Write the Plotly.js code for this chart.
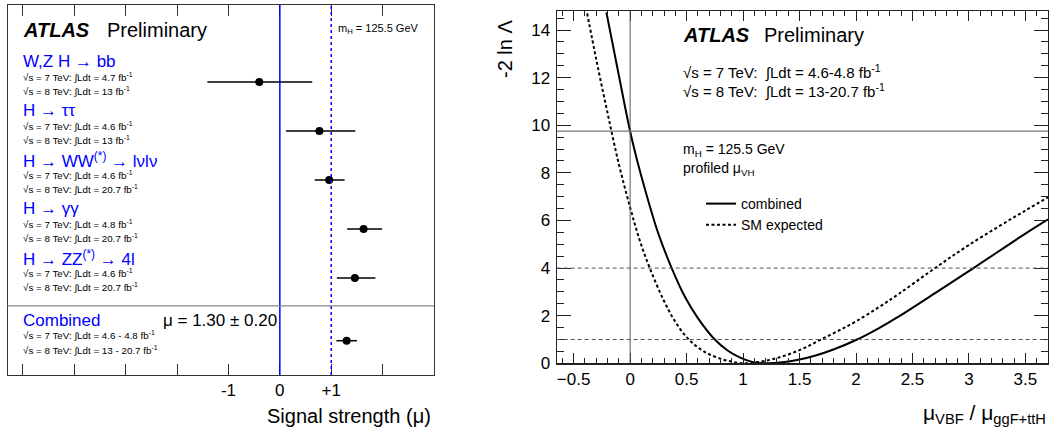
<!DOCTYPE html>
<html>
<head>
<meta charset="utf-8">
<script src="https://cdn.plot.ly/plotly-3.0.1.min.js"></script>
<style>html,body{margin:0;padding:0;background:#fff}#chart{width:1054px;height:433px}</style>
</head>
<body>
<div id="chart"></div>
<script>
// ---------------- data: left panel (signal strength per channel) ----------------
const CHANNELS = ['W,Z H → bb', 'H → ττ', 'H → WW<sup>(*)</sup> → lνlν', 'H → γγ', 'H → ZZ<sup>(*)</sup> → 4l', 'Combined'];
const MU      = [-0.40, 0.77, 0.96, 1.63, 1.46, 1.30];
const ERR_UP  = [1.03, 0.70, 0.30, 0.36, 0.40, 0.20];
const ERR_DN  = [1.01, 0.65, 0.28, 0.32, 0.35, 0.20];
const LUMI_7TEV = ['4.7', '4.6', '4.6', '4.8', '4.6', '4.6 - 4.8'];
const LUMI_8TEV = ['13', '13', '20.7', '20.7', '20.7', '13 - 20.7'];
const MU_TICKS = [-1, 0, 1];
const MU_TICK_LABELS = ['-1', '0', '+1'];
const MU_UNLABELLED_TICKS = [-5, -4, -3, -2, 2];
const COMBINED_TEXT = 'μ = 1.30 ± 0.20';

// ---------------- data: right panel (-2 ln Λ scan) ----------------
const COMB_X = [-0.21, -0.10, 0.00, 0.08, 0.16, 0.25, 0.368, 0.49, 0.60, 0.75, 0.86, 0.97, 1.08, 1.20, 1.35, 1.50, 1.65, 1.80, 2.01, 2.20, 2.38, 2.70, 3.04, 3.50, 3.70];
const COMB_Y = [14.75, 12.10, 9.75, 8.20, 6.84, 5.45, 4.00, 2.75, 1.90, 1.00, 0.55, 0.25, 0.06, 0.00, 0.04, 0.16, 0.34, 0.58, 1.00, 1.47, 1.97, 2.95, 4.00, 5.45, 6.05];
const EXP_X  = [-0.38, -0.30, -0.20, -0.10, 0.00, 0.08, 0.174, 0.294, 0.386, 0.50, 0.60, 0.70, 0.82, 0.91, 1.00, 1.13, 1.26, 1.40, 1.55, 1.69, 1.85, 2.00, 2.20, 2.38, 2.67, 3.00, 3.50, 3.70];
const EXP_Y  = [14.70, 12.77, 10.52, 8.37, 6.55, 5.24, 4.00, 2.68, 1.85, 1.10, 0.67, 0.38, 0.16, 0.06, 0.00, 0.05, 0.17, 0.37, 0.66, 1.00, 1.38, 1.76, 2.35, 2.92, 3.90, 4.97, 6.42, 6.97];
const SIGMA_LEVELS = [1, 4];

// ---------------- layout helpers ----------------
const W = 1054, H = 433;
const px = x => x / W;
const py = y => 1 - y / H;
const FONT = 'Liberation Sans, Arial, Helvetica, sans-serif';
const BLUE = '#0000ff';

// row position of each channel on the left panel (top to bottom)
const rowPos = i => (i < 5 ? i + 1 : 6.28);
const ROWS = CHANNELS.map((_, i) => rowPos(i));

const traces = [];
traces.push({
  type: 'scatter', mode: 'markers', xaxis: 'x', yaxis: 'y', showlegend: false,
  x: MU, y: ROWS,
  marker: {color: 'black', size: 8},
  error_x: {type: 'data', symmetric: false, array: ERR_UP, arrayminus: ERR_DN, width: 0, thickness: 1.5, color: 'black'}
});
traces.push({
  type: 'scatter', mode: 'lines', xaxis: 'x2', yaxis: 'y2', name: 'combined',
  x: COMB_X, y: COMB_Y, line: {color: 'black', width: 2, shape: 'spline', smoothing: 1}
});
traces.push({
  type: 'scatter', mode: 'lines', xaxis: 'x2', yaxis: 'y2', name: 'SM expected',
  x: EXP_X, y: EXP_Y, line: {color: 'black', width: 2, dash: '3px,2.5px', shape: 'spline', smoothing: 1}
});

const ann = [];
function txt(text, x, y, size, opts) {
  ann.push(Object.assign({
    text: text, x: x, y: y, xref: 'paper', yref: 'paper', xanchor: 'left', yanchor: 'middle',
    showarrow: false, font: {family: FONT, size: size, color: 'black'}
  }, opts || {}));
}

// left panel texts
txt('<b><i>ATLAS</i></b>', px(21), py(30), 20);
txt('Preliminary', px(105), py(30), 20);
txt('m<sub>H</sub> = 125.5 GeV', px(336), py(29), 11);
CHANNELS.forEach((c, i) => {
  const r = ROWS[i];
  ann.push({text: c, x: px(21), y: r - 0.41, xref: 'paper', yref: 'y', xanchor: 'left', yanchor: 'middle',
    showarrow: false, font: {family: FONT, size: 17, color: BLUE}});
  ann.push({text: '√s = 7 TeV: ∫Ldt = ' + LUMI_7TEV[i] + ' fb<sup>-1</sup>', x: px(21), y: r - 0.11, xref: 'paper', yref: 'y',
    xanchor: 'left', yanchor: 'middle', showarrow: false, font: {family: FONT, size: 9.8, color: 'black'}});
  ann.push({text: '√s = 8 TeV: ∫Ldt = ' + LUMI_8TEV[i] + ' fb<sup>-1</sup>', x: px(21), y: r + 0.19, xref: 'paper', yref: 'y',
    xanchor: 'left', yanchor: 'middle', showarrow: false, font: {family: FONT, size: 9.8, color: 'black'}});
});
ann.push({text: COMBINED_TEXT, x: px(161), y: ROWS[5] - 0.41, xref: 'paper', yref: 'y', xanchor: 'left', yanchor: 'middle',
  showarrow: false, font: {family: FONT, size: 17, color: 'black'}});
txt('Signal strength (μ)', px(433), py(416), 20, {xanchor: 'right'});

// right panel texts
txt('<b><i>ATLAS</i></b>', px(681), py(35), 20);
txt('Preliminary', px(762), py(35), 20);
txt('√s = 7 TeV:  ∫Ldt = 4.6-4.8 fb<sup>-1</sup>', px(681), py(72), 15);
txt('√s = 8 TeV:  ∫Ldt = 13-20.7 fb<sup>-1</sup>', px(681), py(91), 15);
txt('m<sub>H</sub> = 125.5 GeV', px(681), py(150), 14);
txt('profiled μ<sub>VH</sub>', px(681), py(169), 14);
txt('μ<sub>VBF</sub> / μ<sub>ggF+ttH</sub>', px(1048), py(414), 21, {xanchor: 'right'});
txt('-2 ln Λ', px(505), py(18), 20, {xanchor: 'center', yanchor: 'top', textangle: -90});

// shapes (reference lines)
const shapes = [];
shapes.push({type: 'line', xref: 'x', yref: 'y domain', x0: 0, x1: 0, y0: 0, y1: 1, line: {color: BLUE, width: 1.5}});
shapes.push({type: 'line', xref: 'x', yref: 'y domain', x0: 1, x1: 1, y0: 0, y1: 1, line: {color: BLUE, width: 1.5, dash: 'dot'}});
shapes.push({type: 'line', xref: 'x domain', yref: 'y', x0: 0, x1: 1, y0: 5.57, y1: 5.57, line: {color: '#888', width: 1.2}});
const nllAtZero = COMB_Y[COMB_X.indexOf(0)];
shapes.push({type: 'line', xref: 'x2', yref: 'y2 domain', x0: 0, x1: 0, y0: 0, y1: 1, line: {color: '#555', width: 1}});
shapes.push({type: 'line', xref: 'x2 domain', yref: 'y2', x0: 0, x1: 1, y0: nllAtZero, y1: nllAtZero, line: {color: '#777', width: 1.2}});
SIGMA_LEVELS.forEach(s => shapes.push({type: 'line', xref: 'x2 domain', yref: 'y2', x0: 0, x1: 1, y0: s, y1: s,
  line: {color: '#555', width: 1, dash: '4px,3px'}}));

const layout = {
  width: W, height: H, margin: {l: 0, r: 0, t: 0, b: 0},
  paper_bgcolor: 'white', plot_bgcolor: 'white',
  font: {family: FONT, color: 'black'},
  showlegend: true,
  legend: {x: px(701), xanchor: 'left', y: py(188), yanchor: 'top', font: {family: FONT, size: 14},
    bgcolor: 'rgba(0,0,0,0)', itemwidth: 30, tracegroupgap: 0},
  xaxis: {domain: [px(7.5), px(434)], range: [-5.3, 3.0], tickmode: 'array', tickvals: MU_TICKS, ticktext: MU_TICK_LABELS,
    ticks: 'inside', ticklen: 11, tickwidth: 1, tickcolor: '#333', mirror: 'ticks', showline: true, linecolor: '#333', linewidth: 1,
    minor: {tickmode: 'array', tickvals: MU_UNLABELLED_TICKS, ticklen: 11, ticks: 'inside', tickcolor: '#333', tickwidth: 1},
    showgrid: false, zeroline: false, tickfont: {size: 17}, ticklabelstandoff: 0},
  yaxis: {domain: [py(375), py(5)], range: [6.98, -0.5714], showticklabels: false, ticks: '', showline: true,
    mirror: true, linecolor: '#333', linewidth: 1, showgrid: false, zeroline: false},
  xaxis2: {anchor: 'y2', domain: [px(556.7), px(1048)], range: [-0.65, 3.7], tick0: 0, dtick: 0.5,
    ticks: 'inside', ticklen: 10, tickwidth: 1, tickcolor: '#222', mirror: 'ticks', showline: true, linecolor: '#222', linewidth: 1.2,
    minor: {dtick: 0.1, ticklen: 5, ticks: 'inside', tickcolor: '#222', tickwidth: 1},
    showgrid: false, zeroline: false, tickfont: {size: 17}, ticklabelstandoff: 0},
  yaxis2: {anchor: 'x2', domain: [py(363.3), py(11)], range: [0, 14.8], tick0: 0, dtick: 2,
    ticks: 'inside', ticklen: 14, tickwidth: 1, tickcolor: '#222', mirror: 'ticks', showline: true, linecolor: '#222', linewidth: 1.2,
    minor: {dtick: 0.5, ticklen: 7, ticks: 'inside', tickcolor: '#222', tickwidth: 1},
    showgrid: false, zeroline: false, tickfont: {size: 17}, ticklabelstandoff: 2},
  annotations: ann,
  shapes: shapes
};

Plotly.newPlot('chart', traces, layout, {staticPlot: true, displayModeBar: false});
</script>
</body>
</html>
